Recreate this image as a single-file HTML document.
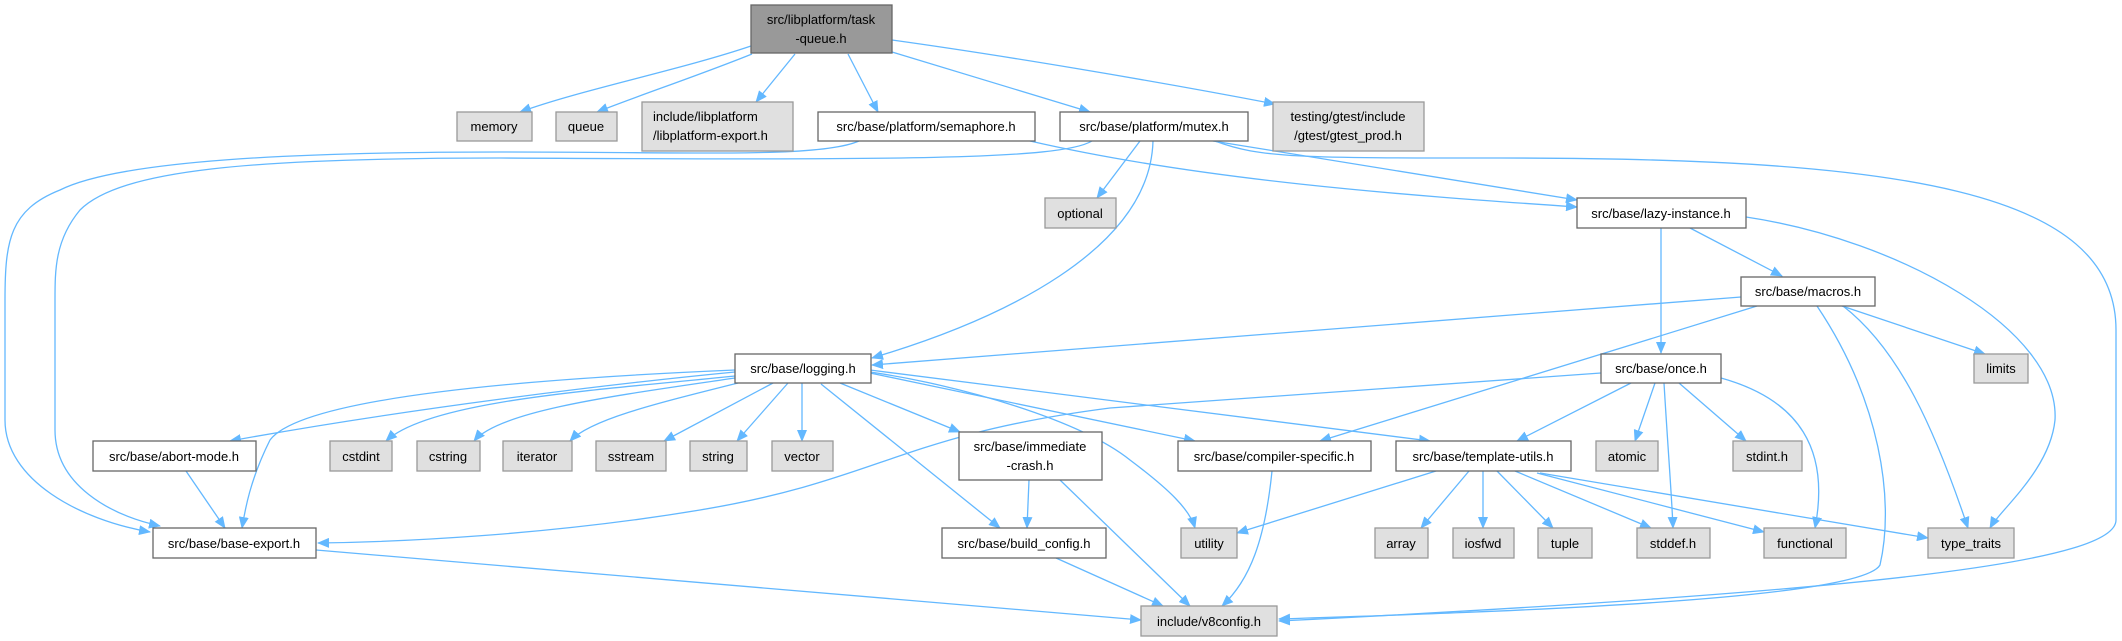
<!DOCTYPE html>
<html><head><meta charset="utf-8"><style>
html,body{margin:0;padding:0;background:#fff;}
svg{display:block;}
text{font-family:"Liberation Sans","DejaVu Sans",sans-serif;font-size:13px;fill:#000;text-anchor:middle;}
.w{fill:#fff;stroke:#666;stroke-width:1.3;}
.g{fill:#e0e0e0;stroke:#999;stroke-width:1.3;}
.r{fill:#999;stroke:#666;stroke-width:1.3;}
path.e{fill:none;stroke:#63b8ff;stroke-width:1.3;marker-end:url(#a);}
</style></head><body>
<svg width="2122" height="641" viewBox="0 0 2122 641" xmlns="http://www.w3.org/2000/svg">
<defs><marker id="a" markerUnits="userSpaceOnUse" markerWidth="12" markerHeight="10" refX="11" refY="5" orient="auto"><path d="M0,0 L12,5 L0,10 z" fill="#63b8ff"/></marker></defs>
<g>
<path class="e" d="M751,46 C680,70 580,90 520,112"/>
<path class="e" d="M752,54 C700,75 640,95 597,112"/>
<path class="e" d="M795,54 L756,102"/>
<path class="e" d="M848,54 L878,112"/>
<path class="e" d="M892,52 L1090,112"/>
<path class="e" d="M892,40 C1000,55 1150,80 1275,104"/>
<path class="e" d="M859,141 C820,158 700,152 500,152 C300,152 120,160 60,190 C10,210 5,240 5,300 L5,420 C5,480 80,520 150,532"/>
<path class="e" d="M1092,141 C1060,160 900,160 500,158 C250,158 120,170 80,210 C55,240 55,270 55,300 L55,430 C55,485 110,515 160,526"/>
<path class="e" d="M1030,141 C1200,180 1400,195 1577,207"/>
<path class="e" d="M1213,141 L1577,200"/>
<path class="e" d="M1140,141 L1097,198"/>
<path class="e" d="M1153,141 C1150,250 1000,320 872,358"/>
<path class="e" d="M1215,141 C1260,158 1300,158 1500,158 C1900,158 2116,190 2116,330 L2116,520 C2116,560 1900,590 1279,621"/>
<path class="e" d="M1661,228 L1661,353"/>
<path class="e" d="M1690,228 L1782,276"/>
<path class="e" d="M1746,217 C1900,240 2060,330 2055,420 C2050,470 2000,510 1990,528"/>
<path class="e" d="M1741,297 L872,365"/>
<path class="e" d="M1757,306 L1320,441"/>
<path class="e" d="M1842,306 L1985,354"/>
<path class="e" d="M1843,306 C1900,350 1935,430 1968,528"/>
<path class="e" d="M1817,306 C1880,400 1895,500 1880,565 C1860,600 1500,612 1279,619"/>
<path class="e" d="M1601,373 L1110,408 C900,435 880,480 700,510 C550,535 400,542 318,543"/>
<path class="e" d="M1631,383 L1517,441"/>
<path class="e" d="M1655,383 L1635,441"/>
<path class="e" d="M1664,383 C1668,450 1672,500 1673,528"/>
<path class="e" d="M1679,383 L1746,441"/>
<path class="e" d="M1721,378 C1800,400 1830,450 1815,528"/>
<path class="e" d="M735,372 C600,385 400,410 230,441"/>
<path class="e" d="M735,370 C500,380 300,400 270,440 C250,480 245,510 242,528"/>
<path class="e" d="M735,376 C600,390 430,400 386,441"/>
<path class="e" d="M735,378 C620,395 500,410 474,441"/>
<path class="e" d="M738,383 C650,405 590,420 570,441"/>
<path class="e" d="M773,383 L664,441"/>
<path class="e" d="M788,383 L737,441"/>
<path class="e" d="M802,383 L802,441"/>
<path class="e" d="M840,383 L960,432"/>
<path class="e" d="M821,384 L1000,528"/>
<path class="e" d="M870,373 L1195,441"/>
<path class="e" d="M870,370 L1430,441"/>
<path class="e" d="M870,372 C960,385 1080,420 1130,460 C1170,490 1190,510 1195,528"/>
<path class="e" d="M186,471 L225,528"/>
<path class="e" d="M1029,480 L1027,528"/>
<path class="e" d="M1060,480 L1190,606"/>
<path class="e" d="M1056,558 L1163,606"/>
<path class="e" d="M1272,471 C1265,540 1250,580 1222,606"/>
<path class="e" d="M316,550 L1141,620"/>
<path class="e" d="M1436,471 L1237,533"/>
<path class="e" d="M1469,471 L1421,528"/>
<path class="e" d="M1483,471 L1483,528"/>
<path class="e" d="M1497,471 L1553,528"/>
<path class="e" d="M1515,471 L1651,528"/>
<path class="e" d="M1537,473 L1764,532"/>
<path class="e" d="M1540,473 L1928,538"/>
</g>
<g>
<rect class="r" x="751" y="5" width="141" height="48"/><text x="821" y="24">src/libplatform/task</text><text x="821" y="43">-queue.h</text>
<rect class="g" x="457" y="112" width="75" height="29"/><text x="494" y="131">memory</text>
<rect class="g" x="556" y="112" width="61" height="29"/><text x="586" y="131">queue</text>
<rect class="g" x="642" y="102" width="151" height="49"/><text x="653" y="121" style="text-anchor:start;">include/libplatform</text><text x="653" y="140" style="text-anchor:start;">/libplatform-export.h</text>
<rect class="w" x="818" y="112" width="217" height="29"/><text x="926" y="131">src/base/platform/semaphore.h</text>
<rect class="w" x="1060" y="112" width="188" height="29"/><text x="1154" y="131">src/base/platform/mutex.h</text>
<rect class="g" x="1273" y="102" width="151" height="49"/><text x="1348" y="121">testing/gtest/include</text><text x="1348" y="140">/gtest/gtest_prod.h</text>
<rect class="g" x="1045" y="198" width="71" height="30"/><text x="1080" y="218">optional</text>
<rect class="w" x="1577" y="198" width="169" height="30"/><text x="1661" y="218">src/base/lazy-instance.h</text>
<rect class="w" x="1741" y="277" width="134" height="29"/><text x="1808" y="296">src/base/macros.h</text>
<rect class="w" x="735" y="354" width="136" height="29"/><text x="803" y="373">src/base/logging.h</text>
<rect class="w" x="1601" y="354" width="120" height="29"/><text x="1661" y="373">src/base/once.h</text>
<rect class="g" x="1974" y="354" width="54" height="29"/><text x="2001" y="373">limits</text>
<rect class="w" x="93" y="441" width="163" height="30"/><text x="174" y="461">src/base/abort-mode.h</text>
<rect class="g" x="330" y="441" width="62" height="30"/><text x="361" y="461">cstdint</text>
<rect class="g" x="417" y="441" width="63" height="30"/><text x="448" y="461">cstring</text>
<rect class="g" x="503" y="441" width="69" height="30"/><text x="537" y="461">iterator</text>
<rect class="g" x="596" y="441" width="70" height="30"/><text x="631" y="461">sstream</text>
<rect class="g" x="690" y="441" width="57" height="30"/><text x="718" y="461">string</text>
<rect class="g" x="772" y="441" width="61" height="30"/><text x="802" y="461">vector</text>
<rect class="w" x="959" y="432" width="143" height="48"/><text x="1030" y="451">src/base/immediate</text><text x="1030" y="470">-crash.h</text>
<rect class="w" x="1178" y="441" width="193" height="30"/><text x="1274" y="461">src/base/compiler-specific.h</text>
<rect class="w" x="1396" y="441" width="175" height="30"/><text x="1483" y="461">src/base/template-utils.h</text>
<rect class="g" x="1596" y="441" width="62" height="30"/><text x="1627" y="461">atomic</text>
<rect class="g" x="1733" y="441" width="69" height="30"/><text x="1767" y="461">stdint.h</text>
<rect class="w" x="153" y="528" width="163" height="30"/><text x="234" y="548">src/base/base-export.h</text>
<rect class="w" x="942" y="528" width="164" height="30"/><text x="1024" y="548">src/base/build_config.h</text>
<rect class="g" x="1181" y="528" width="56" height="30"/><text x="1209" y="548">utility</text>
<rect class="g" x="1375" y="528" width="53" height="30"/><text x="1401" y="548">array</text>
<rect class="g" x="1453" y="528" width="61" height="30"/><text x="1483" y="548">iosfwd</text>
<rect class="g" x="1538" y="528" width="54" height="30"/><text x="1565" y="548">tuple</text>
<rect class="g" x="1637" y="528" width="73" height="30"/><text x="1673" y="548">stddef.h</text>
<rect class="g" x="1764" y="528" width="82" height="30"/><text x="1805" y="548">functional</text>
<rect class="g" x="1928" y="528" width="86" height="30"/><text x="1971" y="548">type_traits</text>
<rect class="g" x="1141" y="606" width="136" height="30"/><text x="1209" y="626">include/v8config.h</text>
</g>
</svg>
</body></html>
